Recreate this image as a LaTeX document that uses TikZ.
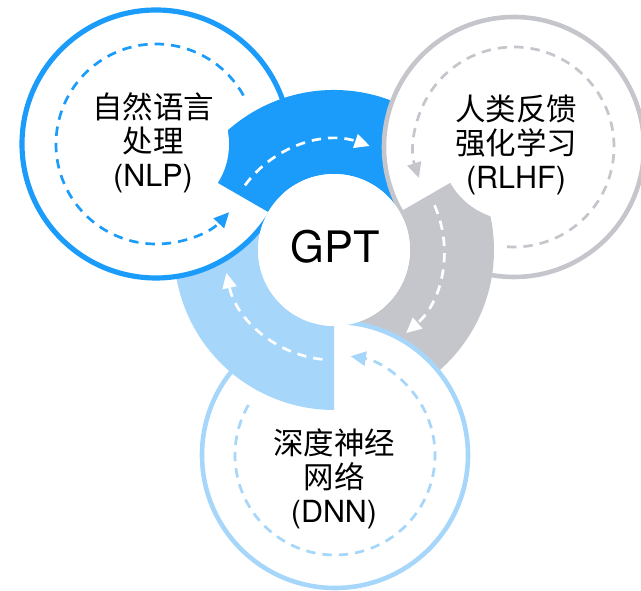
\documentclass[tikz,border=0pt]{standalone}
\usepackage{fontspec}
\setmainfont{TeX Gyre Heros}
\newfontfamily\cjk{Noto Sans CJK SC}
\usetikzlibrary{arrows.meta,calc}
\definecolor{nlpblue}{RGB}{28,156,250}
\definecolor{rlhfgray}{RGB}{197,198,204}
\definecolor{dnnblue}{RGB}{166,214,250}
\tikzset{
  big circle/.style={draw=#1, line width=3.9pt, fill=white},
  loop dash/.style={draw=#1, line width=2.3pt, dash pattern=on 8pt off 6pt,
    -{Triangle[length=13pt,width=12pt]}},
  label text/.style={align=center, font=\fontsize{26}{29}\selectfont},
}
% ring piece round (gpt): colour, from, to
\newcommand\ringpart[3]{%
  \fill[#1] ($(gpt)+(#2:76)$) arc[start angle=#2, end angle=#3, radius=76]
    -- ++(#3:84) arc[start angle=#3, end angle=#2, radius=160] -- cycle;}

\begin{document}
\begin{tikzpicture}[x=0.03cm, y=0.03cm]
\useasboundingbox (0,0) rectangle (641,591);
\coordinate (gpt)  at (334,341);
\coordinate (nlp)  at (156,447);
\coordinate (rlhf) at (514,444);
\coordinate (dnn)  at (335,136);

\ringpart{dnnblue}{270}{150}
\draw[big circle=nlpblue, line width=4.4pt] (nlp) circle[radius=134];
\draw[loop dash=nlpblue] ($(nlp)+(29:100)$) arc[start angle=29, end angle=317, radius=100];
\ringpart{nlpblue}{150}{30}
\fill[white] (nlp) circle[radius=73];

\draw[big circle=rlhfgray] (rlhf) circle[radius=130];
\draw[loop dash=rlhfgray] ($(rlhf)+(-94:100)$) arc[start angle=-94, end angle=198, radius=100];
\ringpart{rlhfgray}{30}{-90}
\fill[white] (rlhf) circle[radius=73];

\draw[big circle=dnnblue] (dnn) circle[radius=133];
\draw[loop dash=dnnblue] ($(dnn)+(150:100)$) arc[start angle=150, end angle=441, radius=100];
\begin{scope}
  \clip (dnn) circle[radius=136];
  \ringpart{dnnblue}{270}{150}
\end{scope}
%
\draw[loop dash=white] ($(gpt)+(144:110)$) arc[start angle=144, end angle=71, radius=110];
\draw[loop dash=white] ($(gpt)+(24:110)$) arc[start angle=24, end angle=-49, radius=110];
\draw[loop dash=white] ($(gpt)+(264:110)$) arc[start angle=264, end angle=192, radius=110];
\fill[white] (gpt) circle[radius=76];

\node[font=\fontsize{37}{40}\selectfont] (gpttext) at ($(gpt)+(1,3)$) {GPT};
\node[label text] (nlptext)  at ($(nlp)+(-3,1)$)  {{\cjk 自然语言}\\{\cjk 处理}\\(NLP)};
\node[label text] (rlhftext) at ($(rlhf)+(2,2)$)  {{\cjk 人类反馈}\\{\cjk 强化学习}\\(RLHF)};
\node[label text] (dnntext)  at ($(dnn)+(-1,-24)$) {{\cjk 深度神经}\\{\cjk 网络}\\(DNN)};
\end{tikzpicture}
\end{document}
